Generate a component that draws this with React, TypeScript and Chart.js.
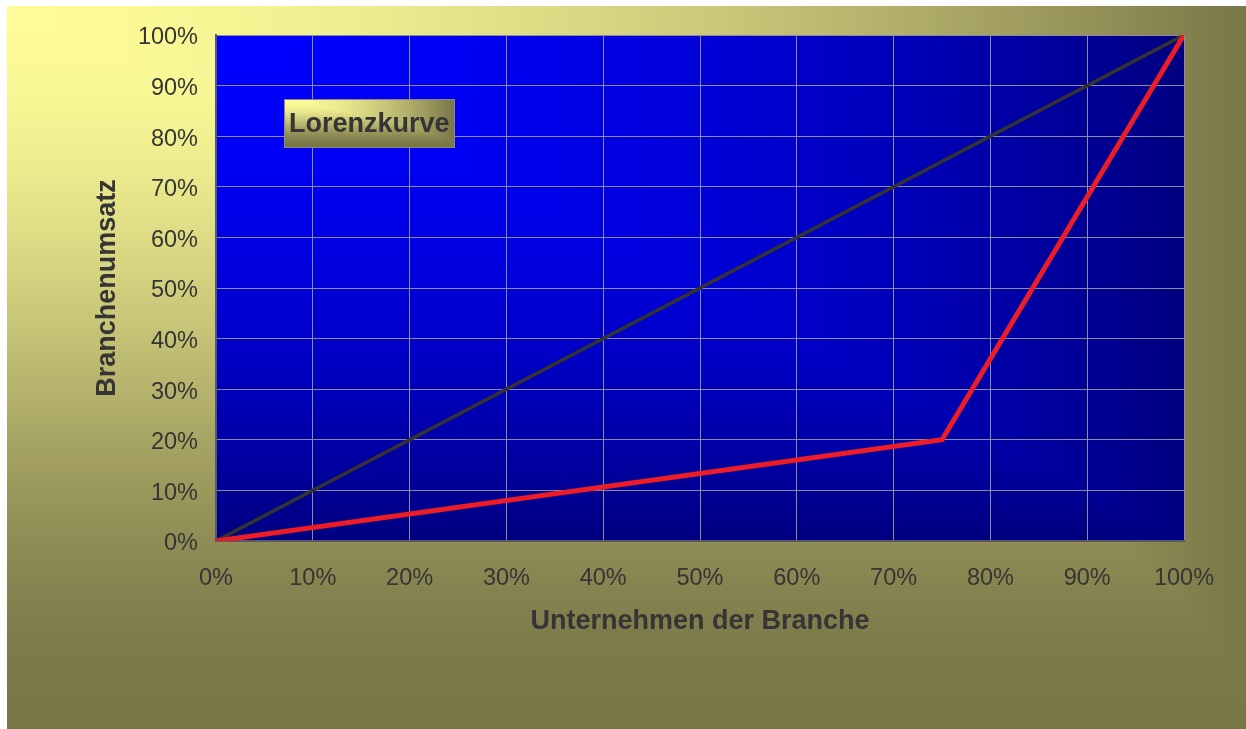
import { useEffect, useRef } from 'react';
import { Chart, registerables } from 'chart.js';

Chart.register(...registerables);

// ---- data ----
const equalityX = [0, 100];
const equalityY = [0, 100];
const lorenzX = [0, 75, 100];
const lorenzY = [0, 20, 100];
const xTickStep = 10;
const yTickStep = 10;
const xTitle = 'Unternehmen der Branche';
const yTitle = 'Branchenumsatz';
const boxLabel = 'Lorenzkurve';
const boxAnchor = [7, 87.4]; // data coords of the label box's top-left corner

const FONT = "'Liberation Sans', Arial, Helvetica, sans-serif";
const TEXT = '#353535';

type RGB = [number, number, number];
type Curve = (t: number) => number;
const cache: Record<string, HTMLCanvasElement> = {};

const pow17: Curve = (t) => Math.pow(t, 1.7);
const smooth: Curve = (t) => t * t * (3 - 2 * t);

function rectGradient(
  key: string,
  w: number,
  h: number,
  c0: RGB,
  c1: RGB,
  fx: Curve,
  fy: Curve
): HTMLCanvasElement {
  const k = `${key}-${w}x${h}`;
  if (cache[k]) return cache[k];
  const off = document.createElement('canvas');
  off.width = w;
  off.height = h;
  const octx = off.getContext('2d')!;
  const img = octx.createImageData(w, h);
  const d = img.data;
  for (let y = 0; y < h; y++) {
    const ty = fy(y / Math.max(1, h - 1));
    for (let x = 0; x < w; x++) {
      const tx = fx(x / Math.max(1, w - 1));
      const t = Math.max(tx, ty);
      const i = (y * w + x) * 4;
      d[i] = c0[0] + (c1[0] - c0[0]) * t;
      d[i + 1] = c0[1] + (c1[1] - c0[1]) * t;
      d[i + 2] = c0[2] + (c1[2] - c0[2]) * t;
      d[i + 3] = 255;
    }
  }
  octx.putImageData(img, 0, 0);
  cache[k] = off;
  return off;
}

const YELLOW: RGB = [253, 252, 152];
const OLIVE: RGB = [121, 118, 72];
const BLUE: RGB = [0, 0, 255];
const NAVY: RGB = [0, 0, 128];

const backgroundPlugin = {
  id: 'bgPanels',
  beforeDraw(chart: any) {
    const { ctx, width, height, chartArea } = chart;
    ctx.save();
    ctx.fillStyle = '#ffffff';
    ctx.fillRect(0, 0, width, height);
    const px = 7, py = 6;
    ctx.drawImage(rectGradient('outer', width - px, height - py, YELLOW, OLIVE, pow17, smooth), px, py);
    const { left, top, right, bottom } = chartArea;
    ctx.drawImage(
      rectGradient('plot', Math.round(right - left), Math.round(bottom - top), BLUE, NAVY, pow17, pow17),
      Math.round(left),
      Math.round(top)
    );
    ctx.restore();
  },
  afterDraw(chart: any) {
    const { ctx } = chart;
    const xs = chart.scales.x;
    const ys = chart.scales.y;
    const left = Math.round(xs.getPixelForValue(boxAnchor[0]));
    const top = Math.round(ys.getPixelForValue(boxAnchor[1]));
    ctx.save();
    ctx.font = `bold 27px ${FONT}`;
    const tw = ctx.measureText(boxLabel).width;
    const w = Math.round(tw + 10);
    const h = 49;
    ctx.drawImage(rectGradient('box', w, h, YELLOW, OLIVE, pow17, smooth), left, top);
    ctx.strokeStyle = '#8a8a80';
    ctx.lineWidth = 1;
    ctx.strokeRect(left + 0.5, top + 0.5, w - 1, h - 1);
    ctx.fillStyle = TEXT;
    ctx.textAlign = 'left';
    ctx.textBaseline = 'middle';
    ctx.fillText(boxLabel, left + 5, top + h / 2 + 1);
    ctx.restore();
  },
};

export default function App() {
  const ref = useRef<HTMLCanvasElement>(null);

  useEffect(() => {
    if (!ref.current) return;
    const chart = new Chart(ref.current, {
      type: 'line',
      data: {
        datasets: [
          {
            label: 'Lorenzkurve',
            data: lorenzX.map((x, i) => ({ x, y: lorenzY[i] })),
            borderColor: '#ee1c25',
            borderWidth: 5,
            pointRadius: 0,
            tension: 0,
            borderJoinStyle: 'miter',
          },
          {
            label: 'Gleichverteilung',
            data: equalityX.map((x, i) => ({ x, y: equalityY[i] })),
            borderColor: '#333333',
            borderWidth: 3.5,
            pointRadius: 0,
            tension: 0,
          },
        ],
      },
      options: {
        responsive: false,
        animation: false,
        layout: { padding: { top: 35, right: 62, left: 0, bottom: 0 } },
        plugins: { legend: { display: false }, tooltip: { enabled: false } },
        scales: {
          x: {
            type: 'linear',
            min: 0,
            max: 100,
            ticks: {
              stepSize: xTickStep,
              callback: (v: any) => `${v}%`,
              font: { family: FONT, size: 23.5 },
              color: TEXT,
              padding: 23,
              maxRotation: 0,
              autoSkip: false,
            },
            grid: { color: '#8c8ca0', lineWidth: 1, drawTicks: false },
            border: { color: '#5a5a66', width: 2 },
            title: {
              display: true,
              text: xTitle,
              color: TEXT,
              font: { family: FONT, size: 27, weight: 'bold' },
              padding: { top: 0, bottom: 91 },
            },
            afterFit: (s: any) => {
              s.height = 188;
            },
          },
          y: {
            type: 'linear',
            min: 0,
            max: 100,
            ticks: {
              stepSize: yTickStep,
              callback: (v: any) => `${v}%`,
              font: { family: FONT, size: 23.5 },
              color: TEXT,
              padding: 18,
              labelOffset: 3,
              autoSkip: false,
            },
            grid: { color: '#8c8ca0', lineWidth: 1, drawTicks: false },
            border: { color: '#5a5a66', width: 2 },
            title: {
              display: true,
              text: yTitle,
              color: TEXT,
              font: { family: FONT, size: 27, weight: 'bold' },
              padding: { top: 91, bottom: 0 },
            },
            afterFit: (s: any) => {
              s.width = 216;
            },
          },
        },
      },
      plugins: [backgroundPlugin],
    } as any);
    return () => chart.destroy();
  }, []);

  return (
    <div style={{ position: 'absolute', left: 0, top: 0, width: 1246, height: 729 }}>
      <canvas ref={ref} width={1246} height={729} style={{ display: 'block' }} />
    </div>
  );
}
